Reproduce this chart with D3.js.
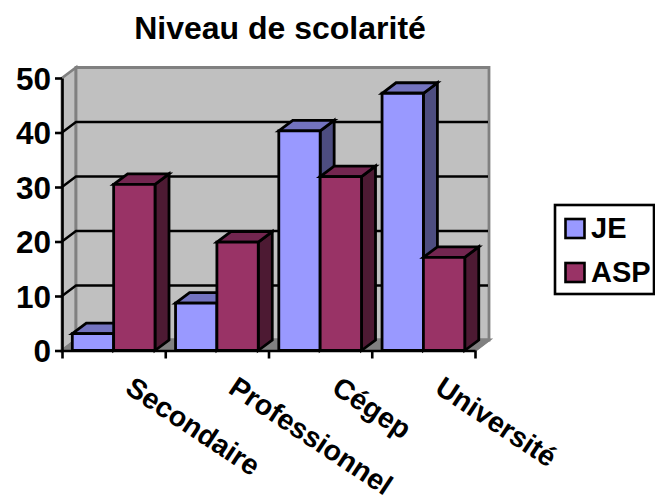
<!DOCTYPE html>
<html><head><meta charset="utf-8">
<script src="https://cdn.jsdelivr.net/npm/d3@7"></script>
<style>html,body{margin:0;padding:0;background:#fff}svg{display:block}text{font-family:"Liberation Sans",Arial,sans-serif;font-weight:bold;fill:#000}</style>
</head><body><svg id="c" width="655" height="504"></svg>
<script>
const categories = ["Secondaire","Professionnel","Cégep","Université"];
const seriesNames = ["JE","ASP"];
const valuesJE = [3.1,8.7,40.3,47.2];
const valuesASP = [30.5,19.9,31.9,17.1];
const yTicks = [0,10,20,30,40,50];
const chartTitle = "Niveau de scolarité";

const front = {c:"#9999ff",t:"#7373bf",s:"#4d4d80"};
const back = {c:"#993366",t:"#732650",s:"#4d1a33"};
const colors = [front,back];
const dx=14, dy=-10.5;
const svg=d3.select("#c");
const y=d3.scaleLinear().domain([0,50]).range([350.5,78]);
const x=d3.scaleBand().domain(categories).range([62,475]);
const inner=d3.scaleBand().domain(seriesNames).range([10.3,93]);
const line=d3.line();
const poly=(g,p,fill)=>g.append("path").attr("d",line(p)+"Z").attr("fill",fill).attr("stroke","#000").attr("stroke-width",2.8).attr("stroke-linejoin","miter");

svg.append("text").attr("x",280).attr("y",38.5).attr("text-anchor","middle").attr("font-size",32).text(chartTitle);

const L=x.range()[0],R=x.range()[1],T=y(50),B=y(0);
const walls=svg.append("g").attr("fill","#c0c0c0").attr("stroke","#808080").attr("stroke-width",2.8);
walls.append("path").attr("d",line([[L,T],[L+dx,T+dy],[L+dx,B+dy],[L,B]])+"Z");
walls.append("path").attr("d",line([[L+dx,T+dy],[R+dx,T+dy],[R+dx,B+dy],[L+dx,B+dy]])+"Z");
walls.append("path").attr("d",line([[L,B],[L+dx,B+dy],[R+dx,B+dy],[R,B]])+"Z").attr("fill","#808080");

const grid=svg.append("g").attr("stroke","#000").attr("stroke-width",2.4).attr("fill","none");
yTicks.slice(1,-1).forEach(v=>grid.append("path").attr("d",line([[L,y(v)],[L+dx,y(v)+dy],[R+dx-1,y(v)+dy]])));

svg.append("path").attr("d",line([[R,B],[R+dx,B+dy]])).attr("stroke","#808080").attr("stroke-width",2);

const data=seriesNames.map((s,i)=>[valuesJE,valuesASP][i]);
categories.forEach((cat,ci)=>{
  seriesNames.forEach((s,si)=>{
    const g=svg.append("g");
    const x0=x(cat)+inner(s), x1=x0+inner.bandwidth(), yt=y(data[si][ci]), col=colors[si];
    poly(g,[[x1,B],[x1+dx,B+dy],[x1+dx,yt+dy],[x1,yt]],col.s);
    poly(g,[[x0,yt],[x0+dx,yt+dy],[x1+dx,yt+dy],[x1,yt]],col.t);
    poly(g,[[x0,B],[x0,yt],[x1,yt],[x1,B]],col.c);
  });
});

const yAxis=svg.append("g").attr("transform",`translate(${L},0)`).call(d3.axisLeft(y).tickValues(yTicks).tickSize(7).tickPadding(4).tickSizeOuter(0));
yAxis.selectAll("path,line").attr("stroke","#000").attr("stroke-width",2.6);
yAxis.selectAll("text").attr("font-size",31.5).attr("font-family",null).attr("dy","0.36em");

const xEdges=d3.axisBottom(d3.scaleLinear().domain([0,categories.length]).range([L,R])).tickValues(d3.range(categories.length+1)).tickSize(8).tickSizeOuter(0).tickFormat("");
const xAxis=svg.append("g").attr("transform",`translate(0,${B})`).call(xEdges);
xAxis.selectAll("path,line").attr("stroke","#000").attr("stroke-width",2.6);

svg.append("g").selectAll("text").data(categories).join("text")
  .attr("font-size",28.5)
  .attr("transform",d=>`translate(${x(d)+x.bandwidth()/2+10},392) rotate(33.5)`)
  .text(d=>d);

const leg=svg.append("g");
leg.append("rect").attr("x",555).attr("y",205).attr("width",99).attr("height",89).attr("fill","#fff").attr("stroke","#000").attr("stroke-width",2.6);
seriesNames.forEach((s,i)=>{
  const yy=219+i*44;
  leg.append("rect").attr("x",565.5).attr("y",yy).attr("width",19).attr("height",19).attr("fill",colors[i].c).attr("stroke","#000").attr("stroke-width",2.6);
  leg.append("text").attr("x",591).attr("y",yy+19).attr("font-size",29).text(s);
});
</script></body></html>
